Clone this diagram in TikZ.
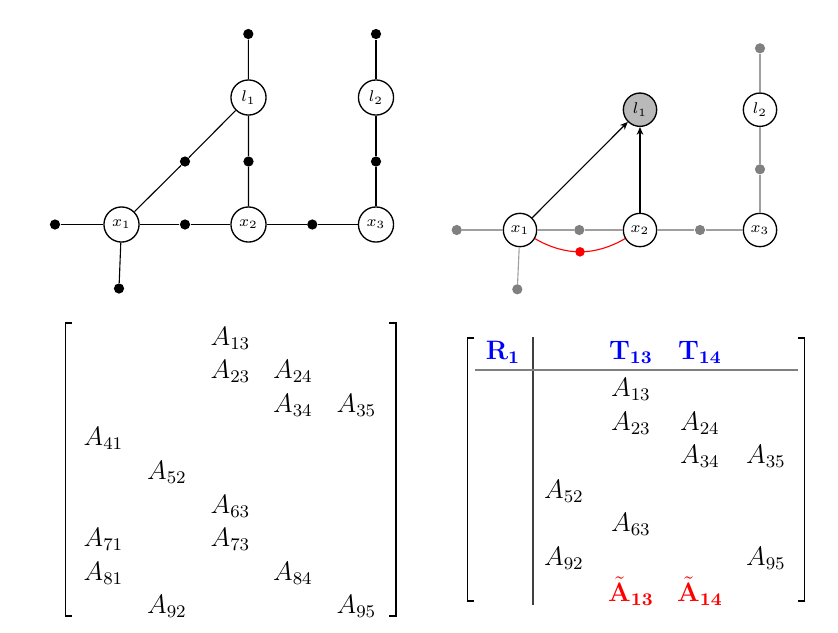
\documentclass[tikz,border=0pt]{standalone}
\usetikzlibrary{arrows.meta}
\begin{document}
\begin{tikzpicture}[x=0.45pt,y=-0.45pt,
  vtx/.style={circle,draw,line width=0.6pt,fill=white,minimum size=15.8pt,inner sep=0pt,font=\scriptsize},
  vtxb/.style={vtx,minimum size=15pt},
  bdot/.style={circle,fill=black,minimum size=4.6pt,inner sep=0pt},
  gdot/.style={circle,fill=gray,minimum size=4.6pt,inner sep=0pt},
  rdot/.style={circle,fill=red,minimum size=4.3pt,inner sep=0pt},
  edge/.style={line width=0.5pt},
  gedge/.style={line width=0.5pt,gray!75},
  arr/.style={line width=0.5pt,-{Stealth[length=3.5pt,width=3pt]}},
  ent/.style={inner sep=0pt,anchor=center,font=\large},
  brk/.style={line width=0.7pt},
  hdr/.style={ent,text=blue},
  red entry/.style={ent,text=red},
]
\useasboundingbox (0,0) rectangle (838,632);

% ---------- Graph 1 ----------
\node[vtx] (ax1) at (121.5,224.5) {$x_1$};
\node[vtx] (ax2) at (248.5,224.5) {$x_2$};
\node[vtx] (ax3) at (376,224.5) {$x_3$};
\node[vtx] (al1) at (248.5,97.5) {$l_1$};
\node[vtx] (al2) at (376,97.5) {$l_2$};
\node[bdot] (ad1) at (248.3,34) {};
\node[bdot] (ad2) at (376,34) {};
\node[bdot] (ad3) at (185,161.5) {};
\node[bdot] (ad4) at (248.5,161.5) {};
\node[bdot] (ad5) at (376,161.5) {};
\node[bdot] (ad6) at (55,224.5) {};
\node[bdot] (ad7) at (185,224.5) {};
\node[bdot] (ad8) at (312.3,224.5) {};
\node[bdot] (ad9) at (119,288.5) {};
\draw[edge] (ad6) -- (ax1) -- (ad7) -- (ax2) -- (ad8) -- (ax3);
\draw[edge] (ax1) -- (ad9);
\draw[edge] (ax1) -- (ad3) -- (al1);
\draw[edge] (ax2) -- (ad4) -- (al1) -- (ad1);
\draw[edge] (ax3) -- (ad5) -- (al2) -- (ad2);

% ---------- Graph 2 ----------
\node[vtxb] (bx1) at (520,230) {$x_1$};
\node[vtxb] (bx2) at (640,230) {$x_2$};
\node[vtxb] (bx3) at (760,230) {$x_3$};
\node[vtxb,fill=gray!55] (bl1) at (640,109.7) {$l_1$};
\node[vtxb] (bl2) at (760,109.7) {$l_2$};
\node[gdot] (bd1) at (456.7,230) {};
\node[gdot] (bd2) at (579.3,230) {};
\node[gdot] (bd3) at (700,230) {};
\node[gdot] (bd4) at (760,48.3) {};
\node[gdot] (bd5) at (760,169.3) {};
\node[gdot] (bd6) at (517.3,289.3) {};
\draw[gedge] (bd1) -- (bx1) -- (bd2) -- (bx2) -- (bd3) -- (bx3);
\draw[gedge] (bx1) -- (bd6);
\draw[gedge] (bx3) -- (bd5) -- (bl2) -- (bd4);
\draw[arr] (bx1) -- (bl1);
\draw[arr] (bx2) -- (bl1);
\draw[red,line width=0.5pt] (bx1) to[out=-30,in=-150] node[rdot,pos=0.5] (brd) {} (bx2);

% ---------- Matrix 1 ----------
\draw[brk] (72,323) -- (65.5,323) -- (65.5,616) -- (72,616);
\draw[brk] (389,323) -- (396,323) -- (396,616) -- (389,616);
\node[ent] (m13) at (230.5,338) {$A_{13}$};
\node[ent] (m23) at (230.5,371.6) {$A_{23}$};
\node[ent] (m24) at (293,371.6) {$A_{24}$};
\node[ent] (m34) at (293,405.2) {$A_{34}$};
\node[ent] (m35) at (356.5,405.2) {$A_{35}$};
\node[ent] (m41) at (103.5,438.8) {$A_{41}$};
\node[ent] (m52) at (167,472.4) {$A_{52}$};
\node[ent] (m63) at (230.5,506) {$A_{63}$};
\node[ent] (m71) at (103.5,539.6) {$A_{71}$};
\node[ent] (m73) at (230.5,539.6) {$A_{73}$};
\node[ent] (m81) at (103.5,573.2) {$A_{81}$};
\node[ent] (m84) at (293,573.2) {$A_{84}$};
\node[ent] (m92) at (167,606.8) {$A_{92}$};
\node[ent] (m95) at (356.5,606.8) {$A_{95}$};

% ---------- Matrix 2 ----------
\draw[brk] (474,338) -- (467.5,338) -- (467.5,601) -- (474,601);
\draw[brk] (798,338) -- (804.5,338) -- (804.5,601) -- (798,601);
\draw[line width=0.5pt,black!75] (533,337) -- (533,605);
\draw[line width=0.7pt,gray] (475,370) -- (798,370);
\node[hdr] (nR1) at (503,352) {$\mathbf{R}_{\mathbf{1}}$};
\node[hdr] (nT13) at (631,352) {$\mathbf{T}_{\mathbf{13}}$};
\node[hdr] (nT14) at (700,352) {$\mathbf{T}_{\mathbf{14}}$};
\node[ent] (n13) at (631,389.5) {$A_{13}$};
\node[ent] (n23) at (631,423) {$A_{23}$};
\node[ent] (n24) at (700,423) {$A_{24}$};
\node[ent] (n34) at (700,456.5) {$A_{34}$};
\node[ent] (n35) at (766,456.5) {$A_{35}$};
\node[ent] (n52) at (564,491) {$A_{52}$};
\node[ent] (n63) at (631,524.5) {$A_{63}$};
\node[ent] (n92) at (564,558) {$A_{92}$};
\node[ent] (n95) at (766,558) {$A_{95}$};
\node[red entry] (nt13) at (631,591) {$\tilde{\mathbf{A}}_{\mathbf{13}}$};
\node[red entry] (nt14) at (700,591) {$\tilde{\mathbf{A}}_{\mathbf{14}}$};
\end{tikzpicture}
\end{document}
